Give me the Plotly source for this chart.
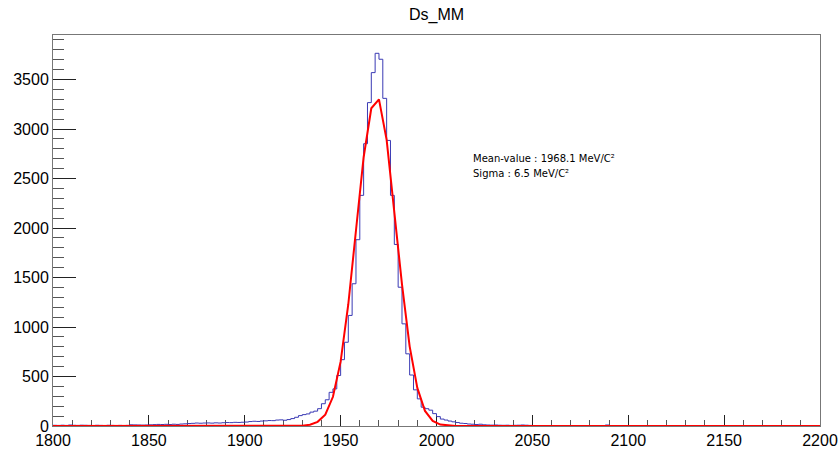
import numpy as np
import plotly.graph_objects as go

# ---- data ----
bin_lo = 1800
bin_hi = 2200
bin_width = 2

counts = (
    [7, 6, 8, 6, 10, 7, 6, 8, 7, 6, 5, 7, 6, 5, 7, 6, 5, 6, 5, 6, 12, 11, 10, 9, 10]
    + [12, 14, 16, 15, 17, 15, 18, 16, 20, 22]
    + [25, 27, 30, 28, 30, 31, 29, 32, 30, 33, 35, 34, 37, 36, 38]
    + [40, 45, 48, 46, 50, 52, 55, 54, 60, 62]
    + [58, 65, 75, 88, 105, 115, 122, 140, 150, 175]
    + [225, 265, 340, 375, 510, 670, 846, 1117, 1437, 1882]
    + [2330, 2852, 3267, 3570, 3765, 3705, 3310, 2885, 2330, 1834]
    + [1402, 1032, 729, 515, 365, 274, 190, 175, 160, 125]
    + [95, 70, 60, 50, 42, 35, 28, 25, 20, 18]
    + [15, 18, 12, 10, 9, 10, 8, 7, 8, 6]
    + [7, 8, 10, 8, 6, 5, 4, 5, 3, 4]
    + [3, 4, 2, 3, 3, 2, 4, 3, 2, 3, 2, 3, 2, 3, 10, 3, 2, 2, 3, 2,
       2, 1, 2, 3, 2, 1, 2, 2, 1, 2, 2, 1, 1, 2, 1, 2, 1, 1, 2, 1,
       1, 2, 1, 1, 1, 2, 1, 1, 0, 1, 1, 1, 0, 1, 1, 0, 1, 1, 0, 1,
       0, 1, 1, 0, 1, 0, 1, 0, 1, 0]
)

fit_x = [1800, 1922, 1926, 1930, 1934, 1938, 1942, 1946, 1950, 1954, 1958, 1962,
         1966, 1970, 1974, 1978, 1982, 1986, 1990, 1994, 1998, 2002, 2006, 2010,
         2014, 2200]
fit_y = [0, 0.2, 0.8, 3.5, 13, 42, 115, 295, 650, 1230, 1975, 2715,
         3210, 3300, 2890, 2190, 1430, 805, 385, 152, 52, 14, 4, 1,
         0.2, 0]

title_text = "Ds_MM"
info_lines = ["Mean-value : 1968.1 MeV/C²", "Sigma : 6.5 MeV/C²"]
x_ticks = [1800, 1850, 1900, 1950, 2000, 2050, 2100, 2150, 2200]
y_ticks = [0, 500, 1000, 1500, 2000, 2500, 3000, 3500]

# ---- build ----
edges = np.arange(bin_lo, bin_hi + bin_width, bin_width)
hist_x = list(edges)
hist_y = list(counts) + [counts[-1]]

fig = go.Figure()
fig.add_trace(go.Scatter(
    x=hist_x, y=hist_y, mode="lines", line=dict(color="#3a3ab4", width=1, shape="hv"),
    showlegend=False, hoverinfo="skip"))
fig.add_trace(go.Scatter(
    x=fit_x, y=fit_y, mode="lines", line=dict(color="#ff0000", width=2),
    showlegend=False, hoverinfo="skip"))

font_fam = "Liberation Sans, Arial, Helvetica, sans-serif"

fig.update_layout(
    width=840, height=449,
    margin=dict(l=53, r=20, t=35, b=23, pad=0),
    paper_bgcolor="white", plot_bgcolor="white",
    title=dict(text=title_text, x=0.5, xanchor="center", xref="paper",
               y=1 - 14 / 449, yref="container", yanchor="middle",
               font=dict(family=font_fam, size=16, color="black")),
    xaxis=dict(range=[bin_lo, bin_hi], tickmode="array", tickvals=x_ticks, automargin=False,
               ticks="inside", ticklen=11, tickcolor="#222", tickwidth=1,
               minor=dict(ticks="inside", ticklen=6, dtick=10, tick0=1800, tickcolor="#555", showgrid=False),
               showline=True, mirror=True, linecolor="#777", linewidth=1,
               showgrid=False, zeroline=False, layer="below traces",
               tickfont=dict(family=font_fam, size=16, color="black")),
    yaxis=dict(range=[0, 3950], tickmode="array", tickvals=y_ticks, automargin=False,
               ticks="inside", ticklen=23, tickcolor="#222", tickwidth=1,
               minor=dict(ticks="inside", ticklen=11, dtick=100, tick0=0, tickcolor="#555", showgrid=False),
               showline=True, mirror=True, linecolor="#777", linewidth=1,
               showgrid=False, zeroline=False, layer="below traces",
               tickfont=dict(family=font_fam, size=16, color="black")),
)

fig.add_annotation(x=2018, y=2704, xref="x", yref="y", text=info_lines[0], showarrow=False,
                   xanchor="left", yanchor="middle",
                   font=dict(family="DejaVu Sans, Verdana, sans-serif", size=10, color="black"))
fig.add_annotation(x=2018, y=2552, xref="x", yref="y", text=info_lines[1], showarrow=False,
                   xanchor="left", yanchor="middle",
                   font=dict(family="DejaVu Sans, Verdana, sans-serif", size=10, color="black"))

fig.write_html("out.html", config={"displayModeBar": False},
               post_script="document.body.style.margin='0';document.body.style.padding='0';")
